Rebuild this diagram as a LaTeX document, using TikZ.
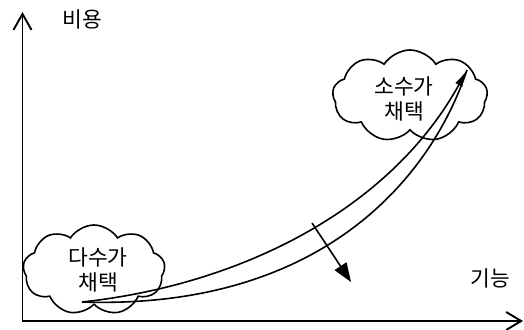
\documentclass[tikz,border=0pt]{standalone}
\usepackage{fontspec}
\newfontfamily\kr{Noto Sans CJK KR}
\usetikzlibrary{arrows.meta,shapes.symbols}
\begin{document}
\begin{tikzpicture}[x=1pt,y=-1pt,
  axis/.style={line width=1.9pt},
  curve/.style={line width=1.6pt},
  cloudbox/.style={cloud, draw, line width=1.6pt, cloud puffs=9, cloud puff arc=115, inner sep=0pt},
  lbl/.style={font=\kr\fontsize{21.5}{25}\selectfont, align=center, inner sep=0pt}]
\useasboundingbox (0,0) rectangle (524,329);
\node[cloudbox, minimum width=155pt, minimum height=92pt] (c2) at (410,96) {};
\node[cloudbox, minimum width=142pt, minimum height=90pt] (c1) at (94,270) {};
\coordinate (o) at (22.5,321);
\coordinate (ytip) at (22.5,12);
\coordinate (xtip) at (523,321);
\draw[axis, {Straight Barb[length=16pt,width=18pt]}-{Straight Barb[length=15pt,width=18pt]}] (ytip) -- (o) -- (xtip);
\coordinate (s) at (82,302);
\coordinate (e) at (467,70);
\draw[curve, -{Latex[length=17pt,width=8pt]}] (s) .. controls (240,285) and (390,210) .. (e);
\draw[curve] (s) .. controls (320,310) and (430,180) .. (e);
\coordinate (a1) at (312,223);
\coordinate (a2) at (351,282);
\draw[curve, -{Triangle[length=19pt,width=14pt]}] (a1) -- (a2);
\node[lbl] (yl) at (82,19) {비용};
\node[lbl] (xl) at (490,278) {기능};
\node[lbl] (t2) at (404,99) {소수가\\채택};
\node[lbl] (t1) at (98,270) {다수가\\채택};
\end{tikzpicture}
\end{document}
